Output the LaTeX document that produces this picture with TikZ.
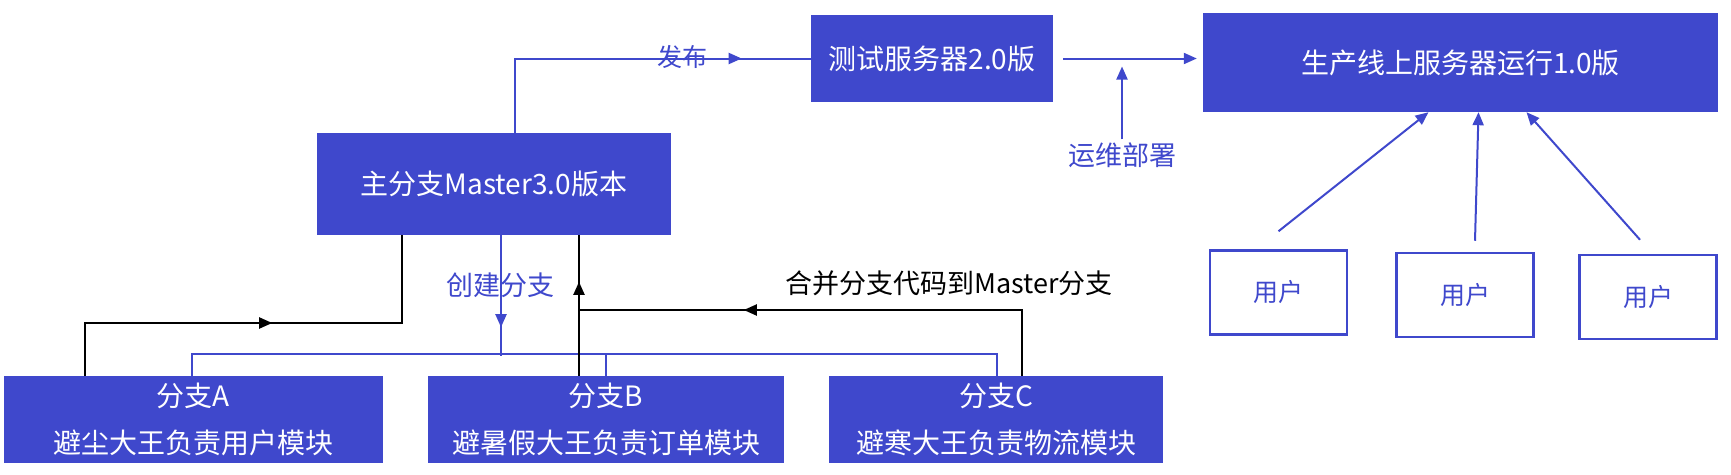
\documentclass[tikz,border=0pt]{standalone}
\usepackage{fontspec}
\usepackage{xcolor}
\newfontfamily\cjk{Noto Sans CJK SC}
\usetikzlibrary{
    calc,
    arrows.meta,
    decorations.markings
}
\definecolor{paintblue}{RGB}{63,72,204}
\tikzset{
    box/.style={fill=paintblue, text=white, inner sep=0pt, align=center, font=\cjk\fontsize{28}{47}\selectfont},
    userbox/.style={draw=paintblue, line width=2.5pt, text=paintblue, minimum width=137pt, minimum height=84pt, font=\cjk\fontsize{25}{30}\selectfont},
    lbl/.style={inner sep=0pt, font=\cjk\fontsize{27}{30}\selectfont},
    blu/.style={paintblue, line width=2pt},
    blk/.style={black, line width=2pt},
    endtip/.style={-{Triangle[length=13pt,width=11pt]}},
    midtip/.style={postaction={decorate}, decoration={markings, mark=at position #1 with {\arrow{Triangle[length=13pt,width=11pt]}}}}
}

\begin{document}
\begin{tikzpicture}[x=1pt, y=-1pt]
                        \useasboundingbox (0, 0) rectangle (1731, 474);
                        \node[box, minimum width=242pt, minimum height=87pt] (test) at (932, 58.5) {测试服务器2.0版};
                        \node[box, minimum width=515pt, minimum height=99pt] (prod) at (1460.5, 62.5) {生产线上服务器运行1.0版};
                        \node[box, minimum width=354pt, minimum height=102pt] (master) at (494, 184) {主分支Master3.0版本};
                        \node[box, minimum width=379pt, minimum height=87pt] (brA) at (193.5, 419.5) {分支A\\避尘大王负责用户模块};
                        \node[box, minimum width=356pt, minimum height=87pt] (brB) at (606, 419.5) {分支B\\避暑假大王负责订单模块};
                        \node[box, minimum width=334pt, minimum height=87pt] (brC) at (996, 419.5) {分支C\\避寒大王负责物流模块};
                        \node[userbox] (u1) at (1278.5, 292.5) {用户};
                        \node[userbox] (u2) at (1465, 295) {用户};
                        \node[userbox] (u3) at (1648, 297) {用户};
                        \node[lbl, text=paintblue, font=\cjk\fontsize{25}{30}\selectfont] (pubtext) at (682, 57) {发布};
                        \node[lbl, text=paintblue] (ops) at (1122, 155) {运维部署};
                        \node[lbl, text=paintblue] (mktext) at (500, 285) {创建分支};
                        \node[lbl] (mergetext) at (949, 283) {合并分支代码到Master分支};
                        \coordinate (pub) at (515, 59);
                        \coordinate (aturn) at (85, 323);
                        \coordinate (mturn) at (402, 323);
                        \coordinate (mkbr) at (501, 356);
                        \coordinate (bup) at (579, 310);
                        \coordinate (cup) at (1022, 310);
                        \coordinate (busA) at (192, 354);
                        \coordinate (busC) at (997, 354);
                        \draw[blu, midtip=301pt] (master.north -| pub) |- (test.west);
                        \draw[blu, endtip, shorten <=10pt, shorten >=6pt] (test.east) -- (test.east -| prod.west);
                        \draw[blu, endtip, shorten <=3pt, shorten >=8pt] (ops.north) -- (ops.north |- test.east);
                        \draw[blu, endtip] ($(u1.north)+(0, -18)$) -- ($(prod.south)+(-32, 0)$);
                        \draw[blu, endtip] ($(u2.north)+(10, -11)$) -- ($(prod.south)+(18, 0)$);
                        \draw[blu, endtip] ($(u3.north)+(-8, -14)$) -- ($(prod.south)+(66, 0)$);
                        \draw[blu, midtip=92pt] (master.south -| mkbr) -- (mkbr);
                        \draw[blu]
                        (brA.north -| busA) -- (busA) -- (busC) -- (brC.north -| busC)
                        (brB.north) -- (brB.north |- busA);
                        \draw[blk, midtip=240pt] (brA.north -| aturn) |- (mturn) -- (master.south -| mturn);
                        \draw[blk, midtip=94pt] (brB.north -| bup) -- (master.south -| bup);
                        \draw[blk, midtip=344pt] (brC.north -| cup) |- (bup);
                    \end{tikzpicture}
\end{document}
